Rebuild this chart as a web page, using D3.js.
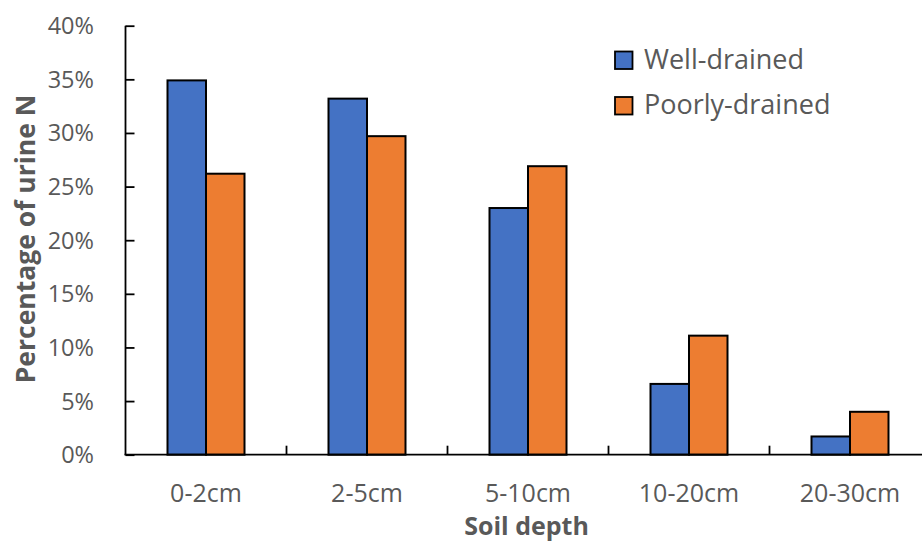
<!DOCTYPE html>
<html>
<head>
<meta charset="utf-8">
<script src="https://cdn.jsdelivr.net/npm/d3@7"></script>
<style>
  body { margin: 0; background: #fff; }
  text { font-family: "Open Sans", sans-serif; fill: #595959; }
</style>
</head>
<body>
<div id="chart"></div>
<script>
// soil depth categories
var depths = ["0-2cm", "2-5cm", "5-10cm", "10-20cm", "20-30cm"];
var seriesNames = ["Well-drained", "Poorly-drained"];
// fraction of urine N in each layer
var wellDrained = [0.349, 0.332, 0.230, 0.066, 0.017];
var poorlyDrained = [0.262, 0.297, 0.269, 0.111, 0.040];
var yTicks = [0, 0.05, 0.10, 0.15, 0.20, 0.25, 0.30, 0.35, 0.40];

var colors = ["#4472C4", "#ED7D31"];
var width = 922, height = 543;
// note: "top" is taken by window.top, so plotTop
var plotLeft = 125.5, plotTop = 25.7, plotBottom = 454.7;
var band = 161;

var svg = d3.select("#chart").append("svg")
  .attr("width", width)
  .attr("height", height);

var x = d3.scaleBand()
  .domain(depths)
  .range([plotLeft, plotLeft + band * depths.length])
  .padding(0);

var barW = 38.5;
var xs = d3.scaleBand()
  .domain(seriesNames)
  .range([x.bandwidth() / 2 - barW, x.bandwidth() / 2 + barW])
  .padding(0);

var y = d3.scaleLinear()
  .domain([0, 0.4])
  .range([plotBottom, plotTop]);

// build rows for the bars
var rows = [];
depths.forEach(function (d, i) {
  rows.push({ depth: d, series: seriesNames[0], value: wellDrained[i], c: colors[0] });
  rows.push({ depth: d, series: seriesNames[1], value: poorlyDrained[i], c: colors[1] });
});

svg.selectAll(".bar")
  .data(rows)
  .enter().append("rect")
  .attr("class", "bar")
  .attr("x", function (d) { return x(d.depth) + xs(d.series); })
  .attr("width", xs.bandwidth())
  .attr("y", function (d) { return y(d.value); })
  .attr("height", function (d) { return plotBottom - y(d.value); })
  .attr("fill", function (d) { return d.c; })
  .attr("stroke", "#000")
  .attr("stroke-width", 2);

// y axis, ticks pointing into the plot
var yAxis = d3.axisRight(y)
  .tickValues(yTicks)
  .tickSize(9)
  .tickFormat("");
var gy = svg.append("g")
  .attr("transform", "translate(" + plotLeft + ",0)")
  .call(yAxis);
gy.select(".domain").attr("d", "M0," + plotTop + "V" + plotBottom);
gy.selectAll("line, path").attr("stroke", "#000").attr("stroke-width", 1.8);

svg.selectAll(".ylab")
  .data(yTicks)
  .enter().append("text")
  .attr("class", "ylab")
  .attr("x", 94)
  .attr("y", function (d) { return y(d); })
  .attr("dy", "0.36em")
  .attr("text-anchor", "end")
  .style("font-size", "23.5px")
  .text(d3.format(".0%"));

// x axis line
var xAxis = d3.axisTop(x).tickSize(0).tickFormat("");
var gx = svg.append("g")
  .attr("transform", "translate(0," + plotBottom + ")")
  .call(xAxis);
gx.select(".domain").attr("d", "M" + (plotLeft - 1) + ",0H" + (plotLeft + band * depths.length));
gx.selectAll("line, path").attr("stroke", "#000").attr("stroke-width", 1.8);

// ticks between groups, pointing up
svg.selectAll(".xtick")
  .data(depths.slice(1))
  .enter().append("line")
  .attr("class", "xtick")
  .attr("x1", function (d) { return x(d); })
  .attr("x2", function (d) { return x(d); })
  .attr("y1", plotBottom)
  .attr("y2", plotBottom - 9)
  .attr("stroke", "#000")
  .attr("stroke-width", 1.8);

svg.selectAll(".xlab")
  .data(depths)
  .enter().append("text")
  .attr("class", "xlab")
  .attr("x", function (d) { return x(d) + x.bandwidth() / 2; })
  .attr("y", 501.5)
  .attr("text-anchor", "middle")
  .style("font-size", "25px")
  .text(function (d) { return d; });

// axis titles
svg.append("text")
  .attr("x", 526.5)
  .attr("y", 535)
  .attr("text-anchor", "middle")
  .style("font-size", "25px")
  .style("font-weight", "bold")
  .text("Soil depth");

svg.append("text")
  .attr("transform", "translate(35,239) rotate(-90)")
  .attr("text-anchor", "middle")
  .style("font-size", "26.5px")
  .style("font-weight", "bold")
  .text("Percentage of urine N");

// legend
var legend = svg.selectAll(".legend")
  .data(seriesNames)
  .enter().append("g")
  .attr("class", "legend")
  .attr("transform", function (d, i) { return "translate(615," + (51.5 + i * 45.5) + ")"; });

legend.append("rect")
  .attr("width", 17.5)
  .attr("height", 17.5)
  .attr("fill", function (d, i) { return colors[i]; })
  .attr("stroke", "#000")
  .attr("stroke-width", 1.8);

legend.append("text")
  .attr("x", 29)
  .attr("y", 17)
  .style("font-size", "27px")
  .text(function (d) { return d; });
</script>
</body>
</html>
